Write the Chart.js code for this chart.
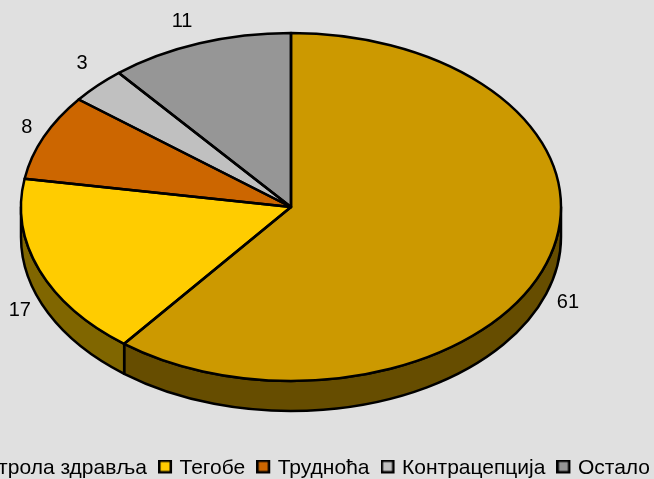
<!DOCTYPE html>
<html lang="sr">
<head>
    <meta charset="UTF-8">
    <title>Pie chart</title>
    <style>
        html, body {
            margin: 0;
            height: 100%;
            overflow: hidden;
            background-color: #e0e0e0;
        }

        /* wider than the window: the legend runs off the left edge like the original */
        #wrap {
            position: absolute;
            left: -86px;
            top: 0;
            width: 754px;
            height: 489px;
        }
    </style>
    <script src="https://cdn.jsdelivr.net/npm/chart.js"></script>
</head>
<body>
    <div id="wrap"><canvas id="pie"></canvas></div>

    <script>
        const categories = ['Контрола здравља', 'Тегобе', 'Трудноћа', 'Контрацепција', 'Остало'];
        const values = [60.6, 17, 8, 3.4, 11];  // labels show these rounded
        const topColors = ['#cc9900', '#ffcc00', '#cc6600', '#c0c0c0', '#969696'];
        const sideColors = ['#664d00', '#806600', '#663300', '#606060', '#4b4b4b'];

        const squash = 0.6444;  // ellipse height / width
        const centerY = 207;
        const depth = 30;       // thickness of the pie side
        const edge = 2.5;
        const fontFamily = '"Liberation Sans", Arial, sans-serif';

        // small hand nudges for the value labels
        const labelNudge = [[1, 1], [1, 2], [3, -1], [0, -7], [-10, -1]];

        // legend swatch, chart.js puts the text too far away from a normal box
        // the canvas is bigger than the box so the box sits up and left of centre
        function swatch(color) {
            const c = document.createElement('canvas');
            c.width = 18;
            c.height = 18;
            const g = c.getContext('2d');
            g.fillStyle = '#000';
            g.fillRect(0, 0, 14, 14);
            g.fillStyle = color;
            g.fillRect(2.5, 2.5, 9, 9);
            return c;
        }

        const pie3d = {
            id: 'pie3d',
            beforeDatasetsDraw(chart) {
                const ctx = chart.ctx;
                const arcs = chart.getDatasetMeta(0).data;
                ctx.save();
                ctx.lineWidth = edge;
                ctx.lineJoin = 'round';
                ctx.strokeStyle = '#000';
                // side wall, only the part turned to the viewer (angles 0..PI)
                arcs.forEach((arc, i) => {
                    const start = Math.max(arc.startAngle, 0);
                    const end = Math.min(arc.endAngle, Math.PI);
                    if (end <= start) return;
                    const r = arc.outerRadius;
                    ctx.beginPath();
                    ctx.ellipse(arc.x, centerY, r, r * squash, 0, start, end);
                    ctx.ellipse(arc.x, centerY + depth, r, r * squash, 0, end, start, true);
                    ctx.closePath();
                    ctx.fillStyle = sideColors[i];
                    ctx.fill();
                    ctx.stroke();
                });
                ctx.restore();
                // squash the library's own slices
                ctx.save();
                ctx.translate(0, centerY);
                ctx.scale(1, squash);
                ctx.translate(0, -arcs[0].y);
            },
            afterDatasetsDraw(chart) {
                const ctx = chart.ctx;
                ctx.restore();
                const arcs = chart.getDatasetMeta(0).data;
                ctx.save();
                ctx.lineWidth = edge;
                ctx.lineJoin = 'round';
                ctx.strokeStyle = '#000';
                arcs.forEach((arc) => {
                    const r = arc.outerRadius;
                    ctx.beginPath();
                    ctx.moveTo(arc.x, centerY);
                    ctx.ellipse(arc.x, centerY, r, r * squash, 0, arc.startAngle, arc.endAngle);
                    ctx.closePath();
                    ctx.stroke();
                });
                // value labels
                ctx.fillStyle = '#000';
                ctx.font = '20px ' + fontFamily;
                ctx.textAlign = 'center';
                ctx.textBaseline = 'middle';
                arcs.forEach((arc, i) => {
                    const mid = (arc.startAngle + arc.endAngle) / 2;
                    const r = arc.outerRadius;
                    const sx = Math.cos(mid);
                    const sy = Math.sin(mid);
                    const x = arc.x + (r + 22) * sx + labelNudge[i][0];
                    const y = centerY + (r * squash + 22) * sy + (sy > 0 ? depth : 0) + labelNudge[i][1];
                    ctx.fillText(String(Math.round(values[i])), x, y);
                });
                ctx.restore();
            }
        };

        new Chart(document.getElementById('pie').getContext('2d'), {
            type: 'pie',
            data: {
                labels: categories,
                datasets: [{
                    data: values,
                    backgroundColor: topColors,
                    borderWidth: 0,
                    radius: 270,
                    clip: false
                }]
            },
            options: {
                responsive: true,
                maintainAspectRatio: false,
                animation: false,
                plugins: {
                    tooltip: { enabled: false },
                    legend: {
                        position: 'bottom',
                        align: 'end',
                        labels: {
                            usePointStyle: true,
                            pointStyleWidth: 4,
                            padding: 18,
                            color: '#000',
                            font: { family: fontFamily, size: 21 },
                            generateLabels: () => categories.map((text, i) => ({
                                text: text,
                                pointStyle: swatch(topColors[i]),
                                fontColor: '#000',
                                index: i
                            }))
                        }
                    }
                }
            },
            plugins: [pie3d]
        });
    </script>
</body>
</html>
